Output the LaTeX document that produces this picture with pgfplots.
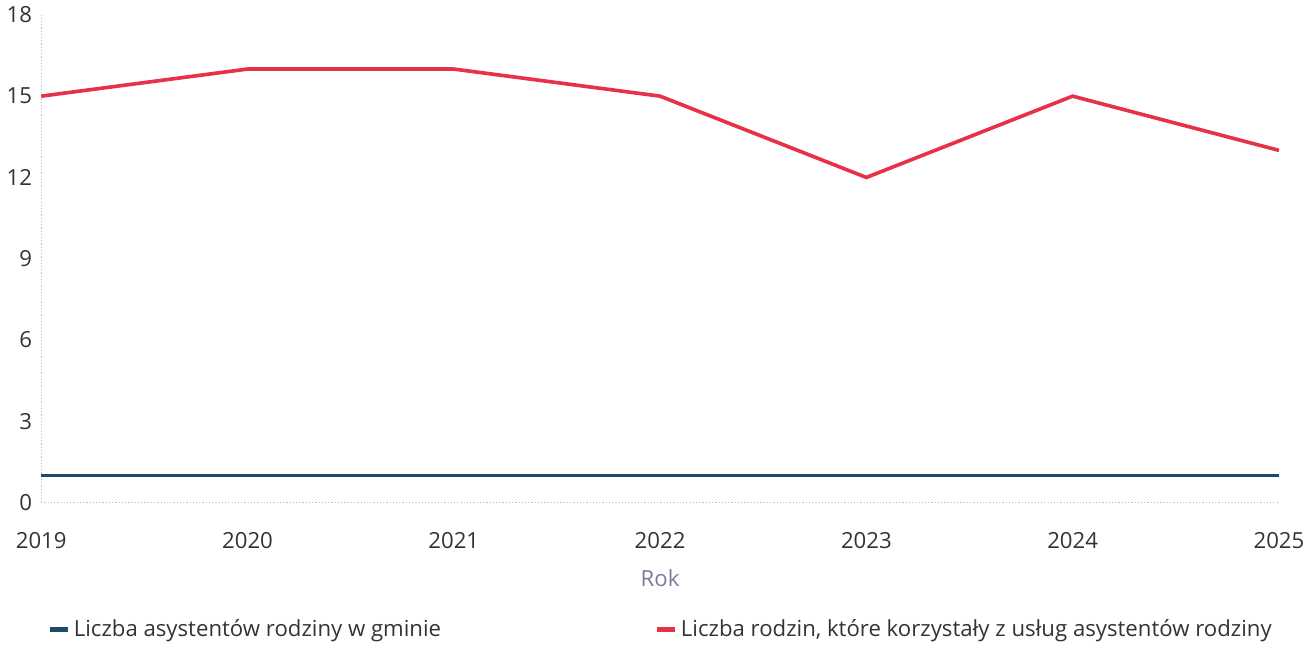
\documentclass[border=0pt]{standalone}
\usepackage{fontspec}
\setmainfont{Open Sans}
\usepackage{pgfplots}
\pgfplotsset{compat=1.18}
\definecolor{granat}{HTML}{1B4B6E}
\definecolor{czerw}{HTML}{E63146}
\definecolor{txt}{HTML}{333333}
\definecolor{rok}{HTML}{7C7A9C}
\definecolor{osie}{HTML}{B8BCD8}

\begin{document}
\begin{tikzpicture}
\begin{axis}[
width=614pt, height=242pt, scale only axis,
xmin=2019, xmax=2025, ymin=0, ymax=18,
xtick={2019,2020,2021,2022,2023,2024,2025},
ytick={0,3,6,9,12,15,18},
/pgf/number format/1000 sep={},
/pgf/number format/assume math mode=true,
major tick length=0pt,
axis x line=bottom, axis y line=left,
axis line style={-, densely dotted, osie, line width=0.6pt},
tick label style={font=\fontsize{11}{13}\selectfont, text=txt},
yticklabel style={xshift=-1pt},
xticklabel style={yshift=-11pt},
xlabel={Rok},
xlabel style={text=rok, font=\fontsize{11}{13}\selectfont, yshift=-3.5pt},
clip=false,
legend columns=2,
legend style={draw=none, fill=none, at={(0,-0.26)}, anchor=west,
  font=\fontsize{11}{13}\selectfont, text=txt,
  /tikz/every even column/.append style={column sep=104pt}},
legend image code/.code={\draw[#1, line width=2pt] (0pt,0pt) -- (9pt,0pt);},
]
\addplot[granat, line width=1.7pt] coordinates {
(2019,1) (2020,1) (2021,1) (2022,1) (2023,1) (2024,1) (2025,1)};
\addlegendentry{Liczba asystentów rodziny w gminie}
\addplot[czerw, line width=1.8pt] coordinates {
(2019,15) (2020,16) (2021,16) (2022,15) (2023,12) (2024,15) (2025,13)};
\addlegendentry{Liczba rodzin, które korzystały z usług asystentów rodziny}
\end{axis}
\end{tikzpicture}
\end{document}
